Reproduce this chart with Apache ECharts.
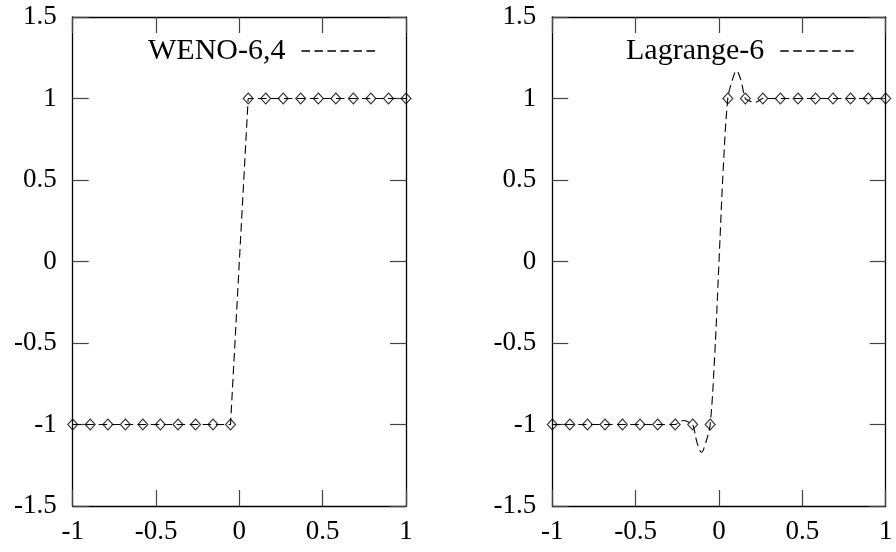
<!DOCTYPE html>
<html><head><meta charset="utf-8">
<script src="https://cdn.jsdelivr.net/npm/echarts@6/dist/echarts.min.js"></script>
<style>html,body{margin:0;padding:0;background:#fff}#c{width:896px;height:552px}</style>
</head><body><div id="c"></div>
<script>
// Data
const nodeX = [-1, -0.895, -0.789, -0.684, -0.579, -0.474, -0.368, -0.263, -0.158, -0.053,
               0.053, 0.158, 0.263, 0.368, 0.474, 0.579, 0.684, 0.789, 0.895, 1];
const nodeY = [-1, -1, -1, -1, -1, -1, -1, -1, -1, -1,
               1, 1, 1, 1, 1, 1, 1, 1, 1, 1];
const wenoX = [-1, -0.053, 0.053, 1];
const wenoY = [-1, -1, 1, 1];
const lagX = [-1, -0.263, -0.237, -0.21, -0.184, -0.158, -0.132, -0.105, -0.079, -0.053,
              -0.026, 0, 0.026, 0.053, 0.079, 0.105, 0.132, 0.158, 0.184, 0.21, 0.237, 0.263, 1];
const lagY = [-1, -1, -0.985, -0.975, -0.985, -1, -1.11, -1.17, -1.11, -1,
              -0.58, 0, 0.58, 1, 1.11, 1.17, 1.11, 1, 0.985, 0.975, 0.985, 1, 1];
const xTicks = ['-1', '-0.5', '0', '0.5', '1'];
const yTicks = ['-1.5', '-1', '-0.5', '0', '0.5', '1', '1.5'];
const legendNames = ['WENO-6,4', 'Lagrange-6'];

const FONT = 'Liberation Serif';
const pair = (xs, ys) => xs.map((x, i) => [x, ys[i]]);

function xAx(grid, pos) {
  return {
    type: 'value', gridIndex: grid, position: pos, min: -1, max: 1, interval: 0.5,
    axisLine: {show: true, onZero: false, lineStyle: {color: '#000', width: 1.3}},
    axisTick: {show: true, inside: true, length: 16, lineStyle: {color: '#444', width: 1.2}},
    axisLabel: {show: pos === 'bottom', margin: 12, color: '#000', fontFamily: FONT, fontSize: 27},
    splitLine: {show: false}
  };
}
function yAx(grid, pos) {
  return {
    type: 'value', gridIndex: grid, position: pos, min: -1.5, max: 1.5, interval: 0.5,
    axisLine: {show: true, onZero: false, lineStyle: {color: '#000', width: 1.3}},
    axisTick: {show: true, inside: true, length: 16, lineStyle: {color: '#444', width: 1.2}},
    axisLabel: {show: pos === 'left', margin: 16, color: '#000', fontFamily: FONT, fontSize: 27},
    splitLine: {show: false}
  };
}
const dash = [8.5, 4.5];
function curve(name, xi, yi, data, smooth) {
  return {
    type: 'line', name: name, xAxisIndex: xi, yAxisIndex: yi, data: data,
    symbol: 'none', smooth: smooth, animation: false,
    lineStyle: {color: '#000', width: 1.1, type: dash},
    itemStyle: {color: '#000'}
  };
}
function nodes(name, xi, yi) {
  return {
    type: 'scatter', name: name, xAxisIndex: xi, yAxisIndex: yi, data: pair(nodeX, nodeY),
    symbol: 'diamond', symbolSize: [10, 11], animation: false, z: 5,
    itemStyle: {color: 'rgba(0,0,0,0)', borderColor: '#000', borderWidth: 1.1}
  };
}
function legend(name, left) {
  return {
    data: [name], left: left, top: 36, align: 'right', itemWidth: 75, itemHeight: 14,
    padding: 0,
    itemStyle: {opacity: 0},
    lineStyle: {type: dash, width: 1.3, color: '#000'},
    textStyle: {fontFamily: FONT, fontSize: 30, color: '#000', padding: [0, 11, 0, 0]},
    selectedMode: false
  };
}

const chart = echarts.init(document.getElementById('c'), null, {renderer: 'canvas'});
chart.setOption({
  backgroundColor: '#fff',
  animation: false,
  grid: [
    {left: 72.7, right: 490, top: 17, bottom: 46},
    {left: 552.3, right: 10.3, top: 17, bottom: 46}
  ],
  xAxis: [xAx(0, 'bottom'), xAx(0, 'top'), xAx(1, 'bottom'), xAx(1, 'top')],
  yAxis: [yAx(0, 'left'), yAx(0, 'right'), yAx(1, 'left'), yAx(1, 'right')],
  legend: [legend(legendNames[0], 148), legend(legendNames[1], 626)],
  series: [
    curve(legendNames[0], 0, 0, pair(wenoX, wenoY), false),
    nodes('nodes-a', 0, 0),
    curve(legendNames[1], 2, 2, pair(lagX, lagY), 0.35),
    nodes('nodes-b', 2, 2)
  ]
});
</script></body></html>
